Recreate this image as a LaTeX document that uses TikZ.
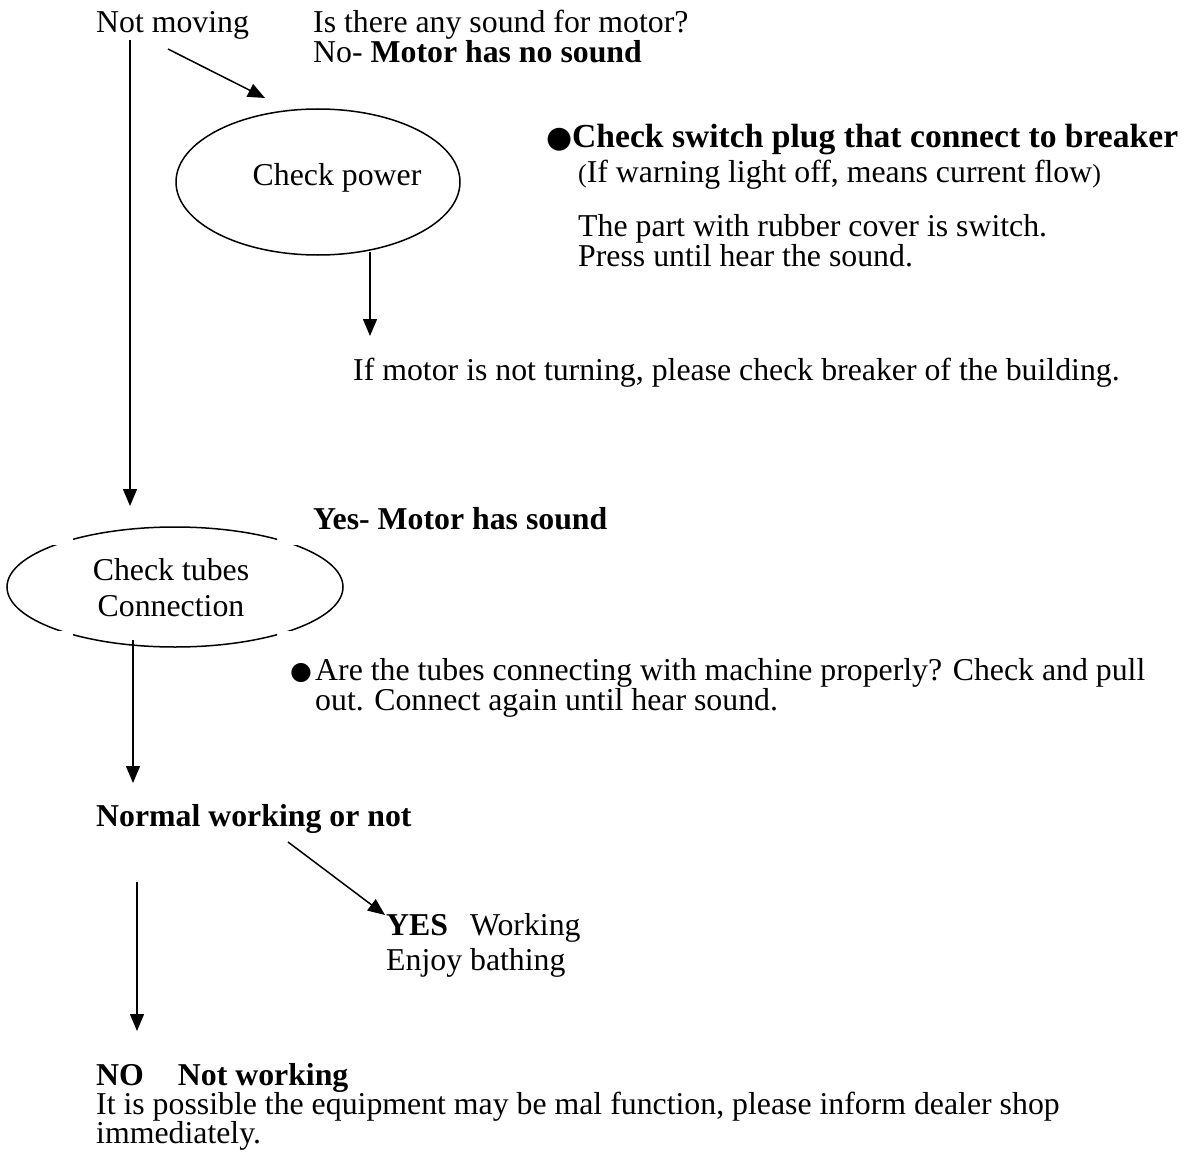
\documentclass[tikz,border=0pt]{standalone}
\usepackage{fontspec}
\setmainfont{Liberation Serif}
\newfontfamily\bulletfont{DejaVu Sans}
\usetikzlibrary{arrows.meta,shapes.geometric}
\begin{document}
\begin{tikzpicture}[x=1pt,y=-1pt,
  txt/.style={anchor=base west, inner sep=0pt, font=\fontsize{31.8}{30}\selectfont},
  ctxt/.style={anchor=base, inner sep=0pt, font=\fontsize{31.8}{30}\selectfont},
  arr/.style={line width=1.5pt, -{Triangle[length=17pt,width=14pt]}},
  ell/.style={draw, line width=1.5pt, ellipse, inner sep=0pt}]
\useasboundingbox (0,0) rectangle (1195,1164);
% top texts
\node[txt] (notmoving) at (96,33) {Not moving};
\node[txt] (question) at (313,33) {Is there any sound for motor?};
\node[txt] (nosound) at (313,63) {No- \textbf{Motor has no sound}};
% check power
\node[ell, minimum width=284pt, minimum height=146pt] (cpow) at (318,182) {};
\node[ctxt] (cpowt) at (337,185) {Check power};
\coordinate (d1s) at (168,49);
\coordinate (d1e) at (265,98);
\draw[arr] (d1s) -- (d1e);
% right notes
\node[txt] (chkb) at (546,147) {{\bulletfont\fontsize{30}{30}\selectfont ●}};
\node[txt, font=\fontsize{33.6}{30}\selectfont\bfseries] (chk) at (572,147) {Check switch plug that connect to breaker};
\node[txt] (warn) at (578,182) {{\fontsize{26}{30}\selectfont(}If warning light off, means current flow{\fontsize{26}{30}\selectfont)}};
\node[txt] (rub) at (578,236) {The part with rubber cover is switch.};
\node[txt] (press) at (578,266) {Press until hear the sound.};
\coordinate (a2s) at (370,252);
\coordinate (a2e) at (370,336);
\draw[arr] (a2s) -- (a2e);
\node[txt] (bld) at (353,380) {If motor is not turning, please check breaker of the building.};
% long vertical arrow
\coordinate (a3s) at (130,40);
\coordinate (a3e) at (130,506);
\draw[arr] (a3s) -- (a3e);
\node[txt] (yes) at (313,529) {\textbf{Yes- Motor has sound}};
% check tubes ellipse (with gaps)
\begin{scope}
\clip (73,500) rectangle (277,680);
\node[ell, minimum width=336pt, minimum height=120pt] (ctub) at (175,587) {};
\end{scope}
\begin{scope}
\clip (0,545) rectangle (400,630);
\node[ell, minimum width=336pt, minimum height=120pt] (ctub2) at (175,587) {};
\end{scope}
\node[ctxt] (ctubt1) at (171,580) {Check tubes};
\node[ctxt] (ctubt2) at (171,616) {Connection};
\node[txt] (bul2) at (290,679) {{\bulletfont\fontsize{25}{30}\selectfont ●}};
\node[txt] (tub1) at (315,680) {Are the tubes connecting with machine properly? Check and pull};
\node[txt] (tub2) at (315,710) {out. Connect again until hear sound.};
\coordinate (a4s) at (133,640);
\coordinate (a4e) at (133,783);
\draw[arr] (a4s) -- (a4e);
\node[txt] (normal) at (96,826) {\textbf{Normal working or not}};
\coordinate (a5s) at (288,842);
\coordinate (a5e) at (385,915);
\draw[arr] (a5s) -- (a5e);
\node[txt] (yesw) at (386,935) {\textbf{YES}\hspace{22pt}Working};
\node[txt] (enjoy) at (386,970) {Enjoy bathing};
\coordinate (a6s) at (137,882);
\coordinate (a6e) at (137,1031);
\draw[arr] (a6s) -- (a6e);
\node[txt] (nowork) at (96,1085) {\textbf{NO\hspace{34pt}Not working}};
\node[txt] (poss) at (96,1114) {It is possible the equipment may be mal function, please inform dealer shop};
\node[txt] (imm) at (96,1143) {immediately.};
\end{tikzpicture}
\end{document}
